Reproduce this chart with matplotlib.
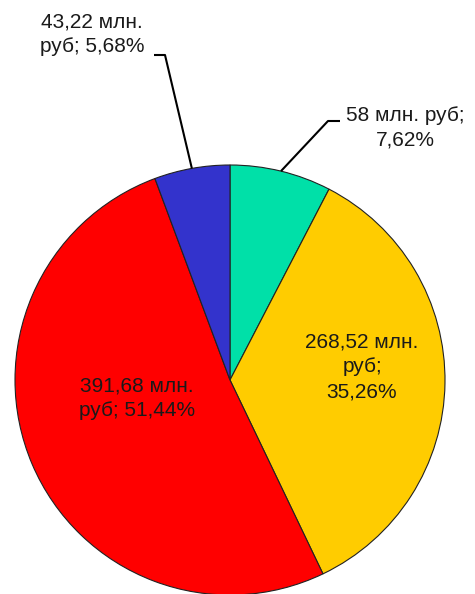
import numpy as np
import matplotlib.pyplot as plt

plt.rcParams["font.family"] = ["Liberation Sans", "DejaVu Sans"]

# slices, clockwise from 12 o'clock
values = [58, 268.52, 391.68, 43.22]
labels = [
    "58 млн. руб;\n7,62%",
    "268,52 млн.\nруб;\n35,26%",
    "391,68 млн.\nруб; 51,44%",
    "43,22 млн.\nруб; 5,68%",
]
colors = ["#00E0A8", "#FFCC00", "#FF0000", "#3333CC"]

W, H = 475, 594
R, CX, CY = 215, 230, 380


def px(x, y):
    # pixel position in the picture -> data coords (pie radius = 1)
    return (x - CX) / R, (CY - y) / R


fig = plt.figure(figsize=(W / 100, H / 100), dpi=100)
ax = fig.add_axes([0, 0, 1, 1])
wedges, _ = ax.pie(values, colors=colors, startangle=90, counterclock=False,
                   radius=1, wedgeprops=dict(edgecolor="#222222", linewidth=0.8))
ax.set_xlim(px(0, 0)[0], px(W, 0)[0])
ax.set_ylim(px(0, H)[1], px(0, 0)[1])
ax.axis("off")

font = dict(fontsize=15, color="#1a1a1a", linespacing=1.4, ha="center", va="center")

# labels inside the big slices
ax.text(*px(362, 367), labels[1], **font)
ax.text(*px(137, 398), labels[2], **font)

# labels outside, with leader lines from the middle of the slice edge
outside = {0: ((405, 128), (328, 121), (340, 121)),
           3: ((92, 34), (165, 55), (154, 55))}
for i, (pos, elbow, end) in outside.items():
    w = wedges[i]
    mid = np.deg2rad((w.theta1 + w.theta2) / 2)
    edge = (np.cos(mid), np.sin(mid))
    ex, ey = px(*elbow)
    tx, ty = px(*end)
    ax.plot([edge[0], ex, tx], [edge[1], ey, ty], color="black", lw=1.5,
            solid_capstyle="butt")
    ax.text(*px(*pos), labels[i], **font)

plt.savefig("out.png", dpi=100)
plt.close()
